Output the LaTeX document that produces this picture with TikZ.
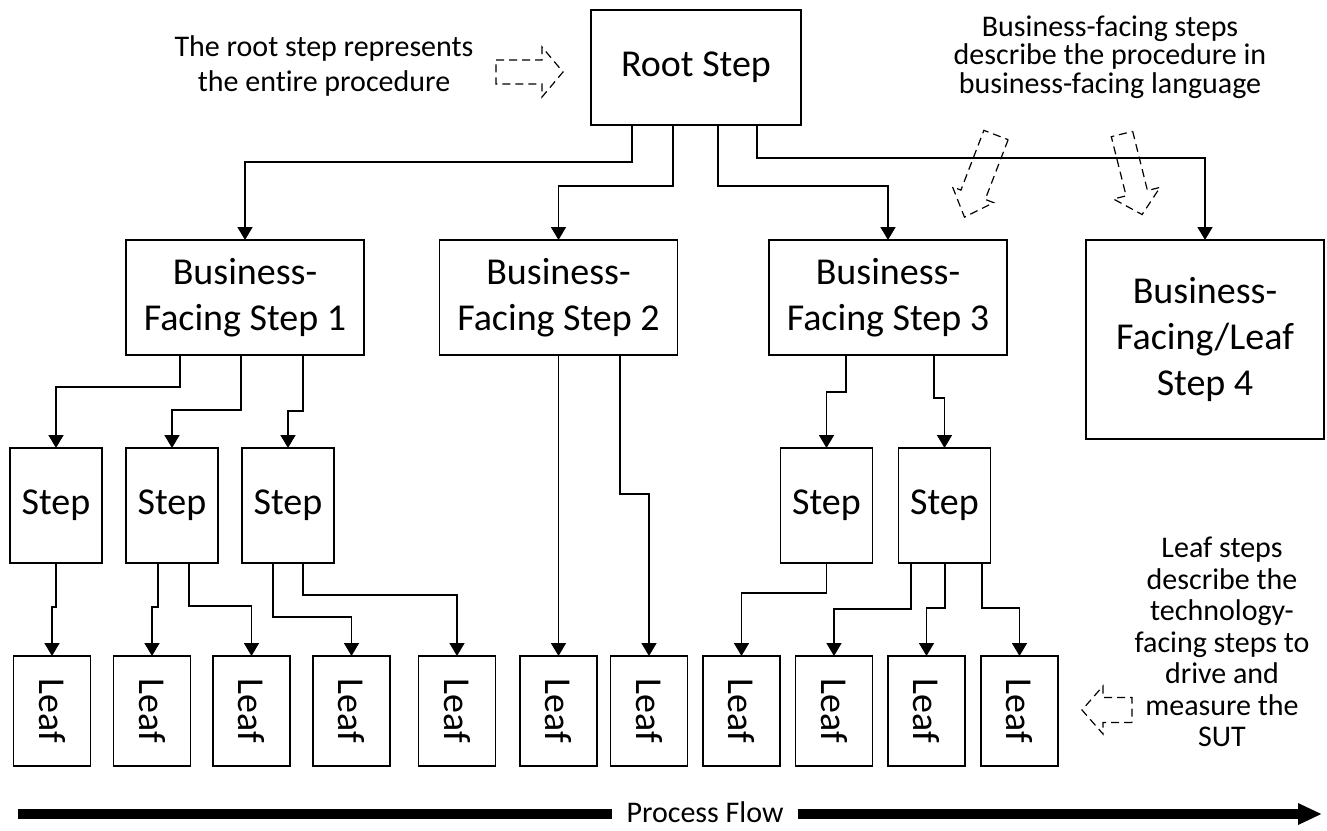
\documentclass[tikz,border=0pt]{standalone}
\usepackage{fontspec}
\setmainfont{Carlito}[Ligatures=NoCommon]
\usetikzlibrary{arrows.meta}

\newcommand{\boxfont}{\fontsize{38}{46}\selectfont}
\newcommand{\notefont}{\fontsize{30}{31.5}\selectfont}

\tikzset{
  pics/hint/.style n args={4}{code={
    \draw[hintline] (0,-#2/2) -- (#1-#4,-#2/2) -- (#1-#4,-#3/2) -- (#1,0)
      -- (#1-#4,#3/2) -- (#1-#4,#2/2) -- (0,#2/2) -- cycle;
  }}
}

\begin{document}
\begin{tikzpicture}[x=1pt, y=-1pt,
  box/.style={draw, line width=1.6pt, inner sep=0pt, outer sep=0pt, align=center, font=\boxfont},
  bizbox/.style={box, minimum width=238pt, minimum height=115pt},
  stepbox/.style={box, minimum width=92pt, minimum height=115pt},
  leafbox/.style={box, minimum width=77pt, minimum height=110pt},
  note/.style={align=center, font=\notefont, inner sep=0pt},
  link/.style={line width=1.6pt, -{Triangle[width=15pt,length=13pt]}},
  hintline/.style={line width=1.2pt, dash pattern=on 8pt off 5pt},
  flowline/.style={line width=10pt}]
            \useasboundingbox (0,0) rectangle (1327,830);

            \node[box, minimum width=210pt, minimum height=115pt] (root) at (696,67.5) {Root Step};
            \node[bizbox] (bf1) at (245,297.5) {Business-\\Facing Step 1};
            \node[bizbox] (bf2) at (558.5,297.5) {Business-\\Facing Step 2};
            \node[bizbox] (bf3) at (888,297.5) {Business-\\Facing Step 3};
            \node[bizbox, minimum height=199pt] (bf4) at (1205,339.5) {Business-\\Facing/Leaf\\Step 4};

            \foreach \x [count=\i] in {56,172,288,826.5,944.5}
                \node[stepbox] (step\i) at (\x,505.5) {Step};
            \foreach \x [count=\i] in {52,152,251.5,351.5,457,558.5,649,741.5,834,926.5,1019.5}
                \node[leafbox] (leaf\i) at (\x,711) {\rotatebox{-90}{Leaf}};

            \foreach \src/\dx/\lvl/\dst in {root/-64/162/bf1, root/-23/186/bf2, root/22/186/bf3, root/61/158/bf4,
                bf1/-65/387/step1, bf1/-4/410/step2, bf1/58/411/step3,
                bf2/0/500/leaf6, bf2/61.5/494/leaf7,
                bf3/-42/392/step4, bf3/46/398/step5,
                step1/0/607/leaf1, step2/-14/607/leaf2, step2/17/606/leaf3,
                step3/-15/617/leaf4, step3/15/595/leaf5, step4/0/593/leaf8,
                step5/-33.5/609/leaf9, step5/0.5/608/leaf10, step5/37.5/608/leaf11} {
                \coordinate (bend) at (0,\lvl);
                \draw[link] ([xshift=\dx pt]\src.south) |- (bend -| \dst.north) -- (\dst.north);}

            \node[note, font=\fontsize{30}{35}\selectfont] (rootnote) at (324,66) {The root step represents\\the entire procedure};
            \node[note, font=\fontsize{30}{28.5}\selectfont] (biznote) at (1110,57) {Business-facing steps\\describe the procedure in\\business-facing language};
            \node[note] (leafnote) at (1222,642) {Leaf steps\\describe the\\technology-\\facing steps to\\drive and\\measure the\\SUT};

            \pic at (496,72) {hint={67}{24}{50}{21}};
            \pic[rotate=-111] at (996,135) {hint={88}{26}{44}{24}};
            \pic[rotate=-76] at (1122,134) {hint={83}{22}{48}{22}};
            \pic[rotate=180] at (1132,710) {hint={50}{25}{48}{21}};

            \node[note, inner xsep=14pt] (flow) at (705,812) {Process Flow};
            \coordinate (flowstart) at (18,814);
            \coordinate (flowend) at (1322,814);
            \draw[flowline] (flowstart) -- (flow.west |- flowstart);
            \draw[flowline, -{Triangle[length=24pt,width=20pt]}] (flow.east |- flowend) -- (flowend);
        \end{tikzpicture}
\end{document}
